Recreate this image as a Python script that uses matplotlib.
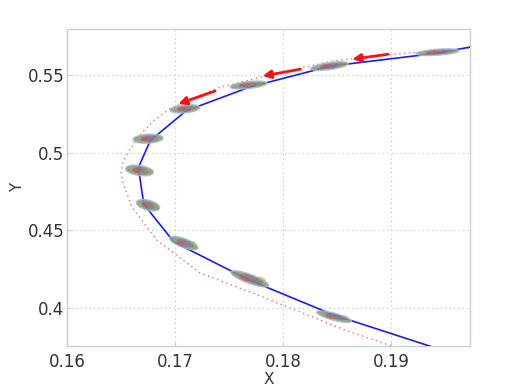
import matplotlib
matplotlib.use("Agg")
import matplotlib.pyplot as plt
from matplotlib.patches import Ellipse
import matplotlib.transforms as mtransforms

plt.rcParams['font.family'] = ['DejaVu Sans']

# ---- data ----
cluster_x = [0.1943, 0.1843, 0.1768, 0.1709, 0.1675, 0.1667, 0.1675, 0.1708, 0.1769, 0.1847]
cluster_y = [0.5645, 0.5556, 0.5434, 0.5281, 0.5089, 0.4885, 0.4662, 0.4419, 0.4189, 0.3946]

blue_x = [0.1982, 0.1943, 0.1844, 0.1769, 0.1710, 0.1677, 0.1666, 0.1671, 0.1699, 0.1768, 0.1846, 0.1945]
blue_y = [0.5690, 0.5639, 0.5556, 0.5421, 0.5268, 0.5077, 0.4904, 0.4668, 0.4425, 0.4183, 0.3959, 0.3736]

red_x = [0.1985, 0.1973, 0.1902, 0.1844, 0.1776, 0.1739, 0.1695, 0.1680, 0.1665, 0.1652,
         0.1650, 0.1652, 0.1660, 0.1683, 0.1723, 0.1776, 0.1856, 0.1899, 0.1910]
red_y = [0.5678, 0.5670, 0.5632, 0.5587, 0.5479, 0.5415, 0.5281, 0.5204, 0.5096, 0.4949,
         0.4872, 0.4802, 0.4649, 0.4438, 0.4227, 0.4087, 0.3863, 0.3761, 0.3735]

arrow_tail_x = [0.1897, 0.1816, 0.1737]
arrow_tail_y = [0.5632, 0.5536, 0.5396]
arrow_head_x = [0.1864, 0.1781, 0.1703]
arrow_head_y = [0.5600, 0.5492, 0.5313]

x_ticks = [0.16, 0.17, 0.18, 0.19]
y_ticks = [0.4, 0.45, 0.5, 0.55]

# cluster shape (pixels at 100 dpi) and tilt in degrees
cl_w = [43, 38, 37, 30, 30, 28, 24, 30, 40, 36]
cl_h = [6, 7, 7, 8, 9, 10, 10, 9, 9, 7]
cl_ang = [4, 8, 6, 5, 3, -8, -15, -20, -20, -15]

fig = plt.figure(figsize=(5.2, 3.9), dpi=100)
ax = fig.add_axes([0.129, 0.113, 0.775, 0.813])

ax.plot(red_x, red_y, linestyle=(0, (1, 2.5)), color="#ff6a5a", lw=1.0, zorder=2)
ax.plot(blue_x, blue_y, color="#1a1aff", lw=1.2, zorder=3)

for i in range(len(cluster_x)):
    base = fig.dpi_scale_trans + mtransforms.ScaledTranslation(cluster_x[i], cluster_y[i], ax.transData)
    w, h, a = cl_w[i] / 100, cl_h[i] / 100, cl_ang[i]
    ax.add_patch(Ellipse((0, 0), w, h, angle=a, transform=base, facecolor="#7f9a6a",
                         edgecolor="#a8b8e0", lw=1.0, alpha=0.85, zorder=4))
    ax.add_patch(Ellipse((0.05 * w, 0), w * 0.6, h * 0.65, angle=a, transform=base,
                         facecolor="#8a5aa0", edgecolor="none", alpha=0.5, zorder=5))
    ax.add_patch(Ellipse((-0.12 * w, 0.0), w * 0.3, h * 0.5, angle=a, transform=base,
                         facecolor="#d84a4a", edgecolor="none", alpha=0.45, zorder=5))
    ax.add_patch(Ellipse((0.3 * w, 0.0), w * 0.22, h * 0.45, angle=a, transform=base,
                         facecolor="#a0b050", edgecolor="none", alpha=0.45, zorder=5))

for i in range(len(arrow_tail_x)):
    ax.annotate("", xy=(arrow_head_x[i], arrow_head_y[i]), xytext=(arrow_tail_x[i], arrow_tail_y[i]),
                arrowprops=dict(arrowstyle="-|>", color="#ff1010", lw=2.0,
                                mutation_scale=12, shrinkA=0, shrinkB=0), zorder=6)

ax.set_xlim(0.16, 0.1973)
ax.set_ylim(0.3758, 0.5795)
ax.set_xticks(x_ticks)
ax.set_xticklabels([f"{v:g}" for v in x_ticks])
ax.set_yticks(y_ticks)
ax.set_yticklabels([f"{v:g}" for v in y_ticks])
ax.grid(True, linestyle=(0, (1, 3)), color="#c0c0c0", lw=0.8)
ax.set_axisbelow(True)
for s in ax.spines.values():
    s.set_color("#c8d0d0")
    s.set_linewidth(1.0)
ax.tick_params(direction="in", length=3, colors="#c8d0d0", labelcolor="#333333", labelsize=12)
ax.tick_params(axis="y", pad=2)
ax.tick_params(axis="x", pad=5)
ax.set_xlabel("X", fontsize=11, color="#333333")
ax.set_ylabel("Y", fontsize=11, color="#333333")
ax.xaxis.set_label_coords(0.5, -0.082)
ax.yaxis.set_label_coords(-0.105, 0.5)

fig.savefig("out.png", dpi=100)
